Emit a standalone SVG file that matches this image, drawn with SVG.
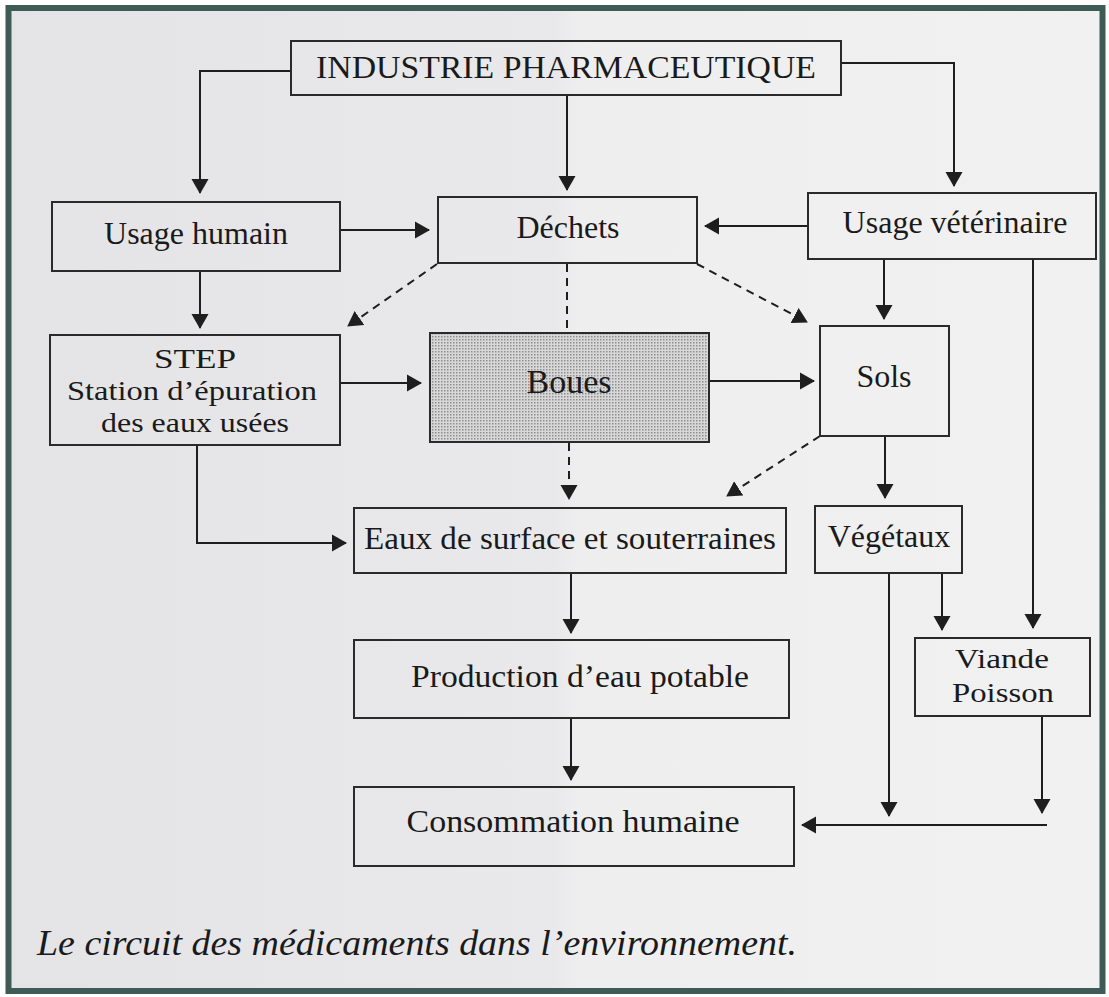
<svg xmlns="http://www.w3.org/2000/svg" width="1109" height="997" viewBox="0 0 1109 997">
  <defs>
    <linearGradient id="page" x1="0" y1="0" x2="1" y2="0">
      <stop offset="0" stop-color="#e4e4e6"/>
      <stop offset="0.5" stop-color="#e9e9eb"/>
      <stop offset="0.52" stop-color="#eeeeef"/>
      <stop offset="1" stop-color="#f1f1f1"/>
    </linearGradient>
    <pattern id="stipple" width="3" height="3" patternUnits="userSpaceOnUse">
      <rect width="3" height="3" fill="#d8d8d8"/>
      <rect width="1.5" height="1.5" fill="#8e8e8e"/>
    </pattern>
    <marker id="arr" markerUnits="userSpaceOnUse" markerWidth="16" markerHeight="18" refX="14" refY="9" orient="auto">
      <path d="M0,0.5 L15,9 L0,17.5 Z" fill="#1e1e1e"/>
    </marker>
  </defs>
  <style>
    .box { fill: none; stroke: #2a2a2a; stroke-width: 2; }
    .lbl { font-family: "Liberation Serif", "Times New Roman", serif; font-size: 32px; fill: #1a1a1a; text-anchor: middle; }
    .sm { font-size: 28px; }
    .ln { fill: none; stroke: #1e1e1e; stroke-width: 2; }
    .dash { fill: none; stroke: #1e1e1e; stroke-width: 2; stroke-dasharray: 8 6; }
    .cap { font-family: "Liberation Serif", "Times New Roman", serif; font-size: 36px; font-style: italic; fill: #1a1a1a; }
  </style>

  <rect x="0" y="0" width="1109" height="997" fill="#ffffff"/>
  <rect x="8.5" y="8" width="1094" height="983" fill="url(#page)" stroke="#3f5b56" stroke-width="6"/>

  <g id="connectors">
    <path class="ln" d="M291,71 H200 V193" marker-end="url(#arr)"/>
    <path class="ln" d="M567,95 V190" marker-end="url(#arr)"/>
    <path class="ln" d="M841,63 H954 V186" marker-end="url(#arr)"/>
    <path class="ln" d="M340,230 H429" marker-end="url(#arr)"/>
    <path class="ln" d="M808,226 H705" marker-end="url(#arr)"/>
    <path class="ln" d="M200,271 V328" marker-end="url(#arr)"/>
    <path class="dash" d="M437,264 L348,326" marker-end="url(#arr)"/>
    <path class="dash" d="M567,264 V333"/>
    <path class="dash" d="M697,264 L807,322" marker-end="url(#arr)"/>
    <path class="ln" d="M884,259 V319" marker-end="url(#arr)"/>
    <path class="ln" d="M1033,259 V628" marker-end="url(#arr)"/>
    <path class="ln" d="M340,383 H421" marker-end="url(#arr)"/>
    <path class="ln" d="M709,381 H814" marker-end="url(#arr)"/>
    <path class="dash" d="M569,443 V499" marker-end="url(#arr)"/>
    <path class="dash" d="M820,436 L727,496" marker-end="url(#arr)"/>
    <path class="ln" d="M885,436 V498" marker-end="url(#arr)"/>
    <path class="ln" d="M197,445 V543 H346" marker-end="url(#arr)"/>
    <path class="ln" d="M571,573 V633" marker-end="url(#arr)"/>
    <path class="ln" d="M571,718 V780" marker-end="url(#arr)"/>
    <path class="ln" d="M889,573 V816" marker-end="url(#arr)"/>
    <path class="ln" d="M942,573 V630" marker-end="url(#arr)"/>
    <path class="ln" d="M1042,716 V813" marker-end="url(#arr)"/>
    <path class="ln" d="M1047,825 H802" marker-end="url(#arr)"/>
  </g>

  <g id="industrie">
    <rect class="box" x="291" y="41" width="550" height="54"/>
    <text class="lbl" x="566" y="78" textLength="500" lengthAdjust="spacingAndGlyphs">INDUSTRIE PHARMACEUTIQUE</text>
  </g>
  <g id="usage-humain">
    <rect class="box" x="52" y="202" width="288" height="69"/>
    <text class="lbl" x="196" y="244">Usage humain</text>
  </g>
  <g id="dechets">
    <rect class="box" x="438" y="197" width="259" height="66"/>
    <text class="lbl" x="568" y="238">Déchets</text>
  </g>
  <g id="usage-veterinaire">
    <rect class="box" x="808" y="193" width="288" height="66"/>
    <text class="lbl" x="955" y="233">Usage vétérinaire</text>
  </g>
  <g id="step">
    <rect class="box" x="50" y="335" width="290" height="110"/>
    <text class="lbl sm" x="195" y="368" textLength="82" lengthAdjust="spacingAndGlyphs">STEP</text>
    <text class="lbl sm" x="192" y="400" textLength="250" lengthAdjust="spacingAndGlyphs">Station d’épuration</text>
    <text class="lbl sm" x="195" y="432" textLength="188" lengthAdjust="spacingAndGlyphs">des eaux usées</text>
  </g>
  <g id="boues">
    <rect x="430" y="333" width="279" height="109" fill="url(#stipple)" stroke="#2a2a2a" stroke-width="2"/>
    <text class="lbl" x="569" y="393" style="font-size:34px">Boues</text>
  </g>
  <g id="sols">
    <rect class="box" x="820" y="326" width="129" height="110"/>
    <text class="lbl" x="884" y="387">Sols</text>
  </g>
  <g id="eaux">
    <rect class="box" x="354" y="508" width="432" height="65"/>
    <text class="lbl" x="570" y="549" textLength="412" lengthAdjust="spacingAndGlyphs">Eaux de surface et souterraines</text>
  </g>
  <g id="vegetaux">
    <rect class="box" x="815" y="506" width="147" height="67"/>
    <text class="lbl" x="889" y="547">Végétaux</text>
  </g>
  <g id="viande-poisson">
    <rect class="box" x="915" y="638" width="175" height="78"/>
    <text class="lbl sm" x="1002" y="668" textLength="94" lengthAdjust="spacingAndGlyphs">Viande</text>
    <text class="lbl sm" x="1003" y="702" textLength="102" lengthAdjust="spacingAndGlyphs">Poisson</text>
  </g>
  <g id="production">
    <rect class="box" x="354" y="640" width="435" height="78"/>
    <text class="lbl" x="580" y="687" textLength="338" lengthAdjust="spacingAndGlyphs">Production d’eau potable</text>
  </g>
  <g id="consommation">
    <rect class="box" x="354" y="787" width="440" height="79"/>
    <text class="lbl" x="573" y="832" textLength="333" lengthAdjust="spacingAndGlyphs">Consommation humaine</text>
  </g>

  <text class="cap" x="37" y="955" textLength="760" lengthAdjust="spacingAndGlyphs">Le circuit des médicaments dans l’environnement.</text>
</svg>
